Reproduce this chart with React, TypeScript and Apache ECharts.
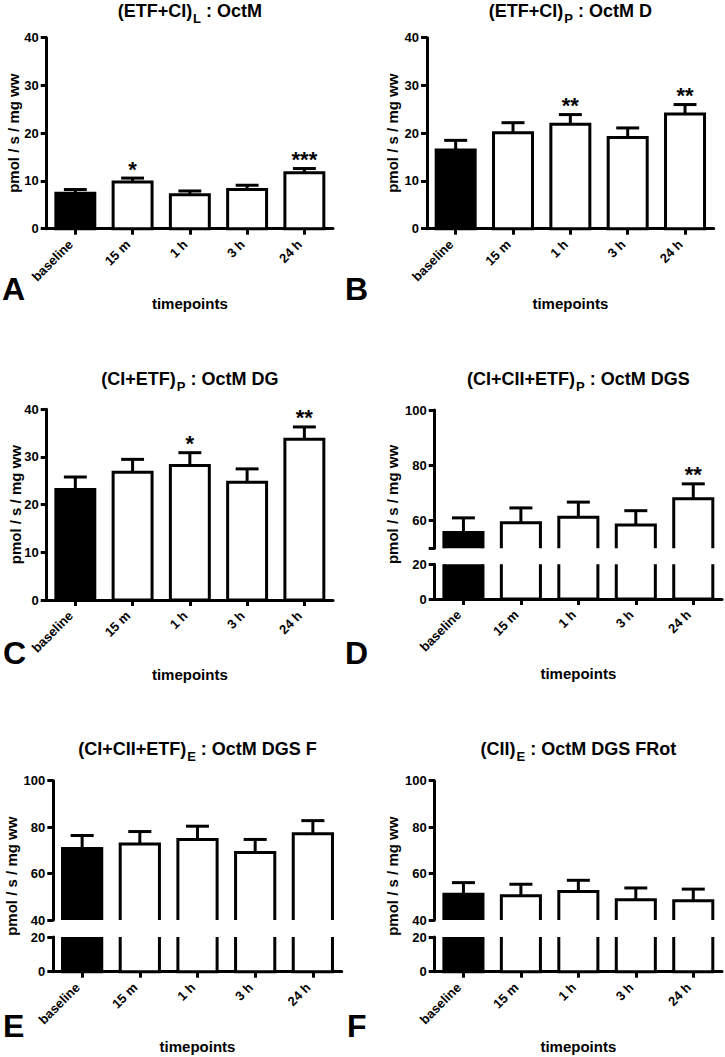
import React, { useEffect, useRef } from 'react';
import * as echarts from 'echarts';

const FONT = '"Liberation Sans", Arial, Helvetica, sans-serif';

const categories = ['baseline', '15 m', '1 h', '3 h', '24 h'];

// Panel A: (ETF+CI)L : OctM
const meanA = [7.4, 9.8, 7.1, 8.2, 11.7];
const semA = [0.8, 0.8, 0.8, 0.9, 0.9];
const starsA = ['', '*', '', '', '***'];

// Panel B: (ETF+CI)P : OctM D
const meanB = [16.5, 20.1, 21.9, 19.1, 24.0];
const semB = [2.0, 2.1, 2.0, 2.0, 2.0];
const starsB = ['', '', '**', '', '**'];

// Panel C: (CI+ETF)P : OctM DG
const meanC = [23.2, 26.8, 28.2, 24.7, 33.7];
const semC = [2.6, 2.7, 2.7, 2.8, 2.6];
const starsC = ['', '', '*', '', '**'];

// Panel D: (CI+CII+ETF)P : OctM DGS
const meanD = [55.7, 59.2, 61.2, 58.4, 67.9];
const semD = [5.3, 5.4, 5.5, 5.2, 5.4];
const starsD = ['', '', '', '', '**'];

// Panel E: (CI+CII+ETF)E : OctM DGS F
const meanE = [70.8, 72.7, 74.7, 69.1, 77.1];
const semE = [5.6, 5.4, 5.7, 5.6, 5.7];
const starsE = ['', '', '', '', ''];

// Panel F: (CII)E : OctM DGS FRot
const meanF = [51.1, 50.4, 52.3, 48.7, 48.3];
const semF = [5.0, 5.0, 4.8, 5.1, 5.0];
const starsF = ['', '', '', '', ''];

const ticks40 = [0, 10, 20, 30, 40];
const ticksLow = [0, 20];
const ticksUpD = [50, 60, 80, 100];
const labelsUpD = [60, 80, 100];
const ticksUpEF = [40, 60, 80, 100];

const yName = 'pmol / s / mg ww';
const xName = 'timepoints';

interface Seg {
  top: number; height: number; min: number; max: number; interval: number;
  labels: number[]; ticks: number[]; bottomAxis: boolean;
}
interface Panel {
  title: [string, string, string];
  mean: number[]; sem: number[]; stars: string[];
  left: number; width: number; segs: Seg[];
  titleY: number; nameOffset: number;
  letter: string; letterX: number; letterY: number;
}

const panels: Panel[] = [
  {
    title: ['(ETF+CI)', 'L', ' : OctM'], mean: meanA, sem: semA, stars: starsA,
    left: 46.7, width: 286.3,
    segs: [{ top: 37.7, height: 191, min: 0, max: 40, interval: 10, labels: ticks40, ticks: ticks40, bottomAxis: true }],
    titleY: 2, nameOffset: 33, letter: 'A', letterX: 2, letterY: 288.5,
  },
  {
    title: ['(ETF+CI)', 'P', ' : OctM D'], mean: meanB, sem: semB, stars: starsB,
    left: 427, width: 286.7,
    segs: [{ top: 37.7, height: 191, min: 0, max: 40, interval: 10, labels: ticks40, ticks: ticks40, bottomAxis: true }],
    titleY: 2, nameOffset: 35, letter: 'B', letterX: 345, letterY: 288.5,
  },
  {
    title: ['(CI+ETF)', 'P', ' : OctM DG'], mean: meanC, sem: semC, stars: starsC,
    left: 46.7, width: 286.3,
    segs: [{ top: 409.3, height: 190.7, min: 0, max: 40, interval: 10, labels: ticks40, ticks: ticks40, bottomAxis: true }],
    titleY: 370, nameOffset: 31, letter: 'C', letterX: 3, letterY: 653,
  },
  {
    title: ['(CI+CII+ETF)', 'P', ' : OctM DGS'], mean: meanD, sem: semD, stars: starsD,
    left: 434.7, width: 287.3,
    segs: [
      { top: 410, height: 138.3, min: 50, max: 100, interval: 10, labels: labelsUpD, ticks: ticksUpD, bottomAxis: false },
      { top: 564.3, height: 34.7, min: 0, max: 20, interval: 20, labels: ticksLow, ticks: ticksLow, bottomAxis: true },
    ],
    titleY: 370, nameOffset: 42, letter: 'D', letterX: 345, letterY: 653,
  },
  {
    title: ['(CI+CII+ETF)', 'E', ' : OctM DGS F'], mean: meanE, sem: semE, stars: starsE,
    left: 53.3, width: 288.4,
    segs: [
      { top: 780.7, height: 139.3, min: 40, max: 100, interval: 20, labels: ticksUpEF, ticks: ticksUpEF, bottomAxis: false },
      { top: 937, height: 34.7, min: 0, max: 20, interval: 20, labels: ticksLow, ticks: ticksLow, bottomAxis: true },
    ],
    titleY: 740, nameOffset: 42, letter: 'E', letterX: 3, letterY: 1026,
  },
  {
    title: ['(CII)', 'E', ' : OctM DGS FRot'], mean: meanF, sem: semF, stars: starsF,
    left: 434.7, width: 287.3,
    segs: [
      { top: 780.7, height: 139.3, min: 40, max: 100, interval: 20, labels: ticksUpEF, ticks: ticksUpEF, bottomAxis: false },
      { top: 937, height: 34.7, min: 0, max: 20, interval: 20, labels: ticksLow, ticks: ticksLow, bottomAxis: true },
    ],
    titleY: 740, nameOffset: 42, letter: 'F', letterX: 347, letterY: 1026,
  },
];

const LW = 3;

function barRender(params: any, api: any) {
  const i = api.value(0);
  const v = api.value(1);
  const cs = params.coordSys;
  const band = api.size([1, 0])[0];
  const p0 = api.coord([i, 0]);
  const cx = p0[0];
  const w = band * 0.68;
  const yv = api.coord([i, v])[1];
  const y0 = p0[1];
  const gTop = cs.y;
  const gBot = cs.y + cs.height;
  const openTop = yv < gTop - 0.5;
  const openBot = y0 > gBot + 0.5;
  const yt = Math.max(yv, gTop);
  const yb = Math.min(y0, gBot);
  const l = cx - w / 2;
  const r = cx + w / 2;
  const fill = i === 0 ? '#000' : '#fff';
  const strokeStyle = { stroke: '#000', lineWidth: LW, fill: 'none', lineJoin: 'miter' };
  let outline: any;
  if (openTop) {
    outline = { type: 'polyline', shape: { points: [[l, yt], [l, yb], [r, yb], [r, yt]] }, style: strokeStyle };
  } else if (openBot) {
    outline = { type: 'polyline', shape: { points: [[l, yb], [l, yt], [r, yt], [r, yb]] }, style: strokeStyle };
  } else {
    outline = { type: 'polygon', shape: { points: [[l, yb], [l, yt], [r, yt], [r, yb]] }, style: strokeStyle };
  }
  return {
    type: 'group',
    children: [
      { type: 'rect', shape: { x: l, y: yt, width: w, height: yb - yt }, style: { fill } },
      outline,
    ],
  };
}

function errRender(stars: string[]) {
  return (params: any, api: any) => {
    const i = api.value(0);
    const v = api.value(1);
    const e = api.value(2);
    const pv = api.coord([i, v]);
    const yc = api.coord([i, v + e])[1];
    const band = api.size([1, 0])[0];
    const hw = band * 0.2;
    const star = stars[params.dataIndex];
    const children: any[] = [
      { type: 'line', shape: { x1: pv[0], y1: pv[1], x2: pv[0], y2: yc }, style: { stroke: '#000', lineWidth: LW } },
      { type: 'line', shape: { x1: pv[0] - hw, y1: yc, x2: pv[0] + hw, y2: yc }, style: { stroke: '#000', lineWidth: LW } },
    ];
    if (star) {
      children.push({
        type: 'text', x: pv[0], y: yc + 2,
        style: { text: star, align: 'center', verticalAlign: 'bottom', fill: '#000', font: `bold 22px ${FONT}` },
      });
    }
    return { type: 'group', children };
  };
}

function buildOption() {
  const grid: any[] = [];
  const xAxis: any[] = [];
  const yAxis: any[] = [];
  const series: any[] = [];
  const graphic: any[] = [];
  const axisLineStyle = { color: '#000', width: LW };
  const labelStyle = { color: '#000', fontFamily: FONT, fontWeight: 'bold', fontSize: 13 };

  panels.forEach((p) => {
    const segTop = p.segs[0].top;
    const last = p.segs[p.segs.length - 1];
    const segBot = last.top + last.height;
    p.segs.forEach((s, si) => {
      const k = grid.length;
      grid.push({ left: p.left, top: s.top, width: p.width, height: s.height, containLabel: false, outerBoundsMode: 'none' });
      xAxis.push({
        type: 'category', gridIndex: k, data: categories, show: s.bottomAxis, boundaryGap: true,
        axisLine: { show: true, onZero: false, lineStyle: axisLineStyle },
        axisTick: { show: true, alignWithLabel: true, length: 6, lineStyle: axisLineStyle },
        axisLabel: { ...labelStyle, interval: 0, rotate: 45, margin: 18, align: 'right', verticalAlign: 'bottom' },
        splitLine: { show: false },
        name: s.bottomAxis ? xName : '', nameLocation: 'middle', nameGap: 67, nameMoveOverlap: false,
        nameTextStyle: { color: '#000', fontFamily: FONT, fontWeight: 'bold', fontSize: 15 },
      });
      yAxis.push({
        type: 'value', gridIndex: k, min: s.min, max: s.max, interval: s.interval,
        axisLine: { show: true, onZero: false, lineStyle: axisLineStyle },
        axisTick: { show: true, length: 6, customValues: s.ticks, lineStyle: axisLineStyle },
        axisLabel: { ...labelStyle, margin: 8, customValues: s.labels },
        splitLine: { show: false },
      });
      series.push({
        type: 'custom', xAxisIndex: k, yAxisIndex: k, renderItem: barRender, z: 2,
        encode: { x: 0, y: 1 },
        data: p.mean.map((v, i) => [i, v]),
      });
      if (si === 0) {
        series.push({
          type: 'custom', xAxisIndex: k, yAxisIndex: k, renderItem: errRender(p.stars), z: 3,
          encode: { x: 0, y: 1 },
          data: p.mean.map((v, i) => [i, v, p.sem[i]]),
        });
      }
    });
    const cx = p.left + p.width / 2;
    graphic.push({
      type: 'text', x: cx, y: p.titleY,
      style: {
        text: `{m|${p.title[0]}}{s|${p.title[1]}}{m|${p.title[2]}}`,
        align: 'center', verticalAlign: 'top', fill: '#000',
        rich: {
          m: { fontSize: 18, fontWeight: 'bold', fontFamily: FONT, lineHeight: 20, verticalAlign: 'top', fill: '#000' },
          s: { fontSize: 13, fontWeight: 'bold', fontFamily: FONT, lineHeight: 14, verticalAlign: 'top', padding: [10, 0, 0, 1], fill: '#000' },
        },
      },
    });
    graphic.push({
      type: 'text', x: p.left - p.nameOffset, y: (segTop + segBot) / 2, rotation: Math.PI / 2,
      style: { text: yName, align: 'center', verticalAlign: 'middle', fill: '#000', font: `bold 15px ${FONT}` },
    });
    graphic.push({
      type: 'text', x: p.letterX, y: p.letterY,
      style: { text: p.letter, align: 'left', verticalAlign: 'middle', fill: '#000', font: `bold 32px ${FONT}` },
    });
  });

  return { animation: false, backgroundColor: '#fff', grid, xAxis, yAxis, series, graphic };
}

export default function App() {
  const ref = useRef<HTMLDivElement>(null);
  useEffect(() => {
    if (!ref.current) return;
    const chart = echarts.init(ref.current, undefined, { renderer: 'svg' });
    chart.setOption(buildOption() as any);
    return () => chart.dispose();
  }, []);
  return (
    <div
      ref={ref}
      style={{ position: 'absolute', left: 0, top: 0, width: 725, height: 1057, background: '#fff' }}
    />
  );
}
